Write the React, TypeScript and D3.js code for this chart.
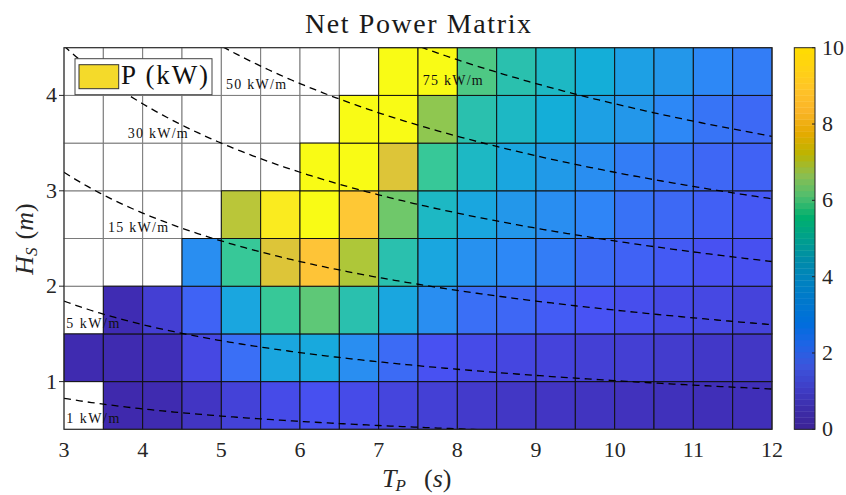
import React from "react";
import * as d3 from "d3";

// Peak period bins (s), left edges; each bin is 0.5 s wide
const tpBins = [3, 3.5, 4, 4.5, 5, 5.5, 6, 6.5, 7, 7.5, 8, 8.5, 9, 9.5, 10, 10.5, 11, 11.5];
// Significant wave height bins (m), lower edges; each bin is 0.5 m tall
const hsBins = [0.5, 1, 1.5, 2, 2.5, 3, 3.5, 4];

// Net power (kW) per sea state, one row per Hs bin; null = no data
const powerHs050 = [null, 0.1, 0.15, 0.5, 0.9, 1.2, 1.35, 1.2, 1.0, 0.85, 0.65, 0.55, 0.5, 0.45, 0.4, 0.35, 0.3, 0.3];
const powerHs100 = [0.15, 0.15, 0.3, 1.1, 2.2, 3.9, 4.0, 3.1, 2.1, 1.4, 1.2, 1.05, 0.95, 0.85, 0.8, 0.7, 0.6, 0.55];
const powerHs150 = [null, 0.2, 0.8, 1.9, 3.9, 5.7, 6.2, 5.2, 3.9, 3.1, 2.2, 2.0, 1.7, 1.45, 1.3, 1.15, 1.1, 0.95];
const powerHs200 = [null, null, null, 3.1, 5.7, 8.0, 8.6, 7.2, 5.2, 3.9, 3.2, 2.9, 2.6, 2.1, 1.85, 1.65, 1.4, 1.35];
const powerHs250 = [null, null, null, null, 7.4, 9.6, 10, 8.7, 6.4, 4.7, 3.9, 3.4, 3.1, 2.8, 2.3, 2.05, 1.8, 1.6];
const powerHs300 = [null, null, null, null, null, null, 10, 10, 8.0, 5.7, 4.7, 3.9, 3.5, 3.1, 2.6, 2.3, 2.0, 1.85];
const powerHs350 = [null, null, null, null, null, null, null, 10, 10, 6.8, 5.2, 4.7, 4.2, 3.7, 3.4, 2.9, 2.35, 2.05];
const powerHs400 = [null, null, null, null, null, null, null, null, 10, 10, 6.0, 5.2, 4.7, 4.2, 3.7, 3.4, 2.9, 2.6];
const powerRows = [powerHs050, powerHs100, powerHs150, powerHs200, powerHs250, powerHs300, powerHs350, powerHs400];

// Wave energy flux iso-lines (kW/m) and where their labels sit (Tp, Hs)
const fluxLevels = [1, 5, 15, 30, 50, 75];
const fluxLabelTp = [3.03, 3.03, 3.56, 3.81, 5.06, 7.56];
const fluxLabelHs = [0.563, 1.565, 2.565, 3.553, 4.067, 4.112];

// Axis ticks
const xTicks = [3, 4, 5, 6, 7, 8, 9, 10, 11, 12];
const yTicks = [1, 2, 3, 4];
const cbTicks = [0, 2, 4, 6, 8, 10];

// Deep-water energy flux coefficient rho*g^2/(64*pi) in kW/(m^3 s)
const FLUX_COEF = 0.49;

const parulaStops = [
  "#3e26a8", "#4852f4", "#2e87f7", "#12b1d6",
  "#37c897", "#abc739", "#fec338", "#f9fb15",
];
const colorbarStops = [
  "#3c2396", "#3c2daa", "#3e3ec8", "#3c55dc", "#1e64e6", "#006edc",
  "#0078cd", "#0082c0", "#008ca8", "#00a08c", "#00af6e", "#50be6e",
  "#8cbe50", "#bcb400", "#e6aa00", "#fab428", "#ffc328", "#ffd214", "#ffdc00",
];

const W = 846;
const H = 495;
const plot = { left: 64, right: 772, top: 47.7, bottom: 429.3 };
const cb = { left: 794.3, right: 815, top: 47.7, bottom: 429.3 };
const FONT = "'Liberation Serif', 'Times New Roman', serif";

export default function App() {
  const x = d3.scaleLinear().domain([3, 12]).range([plot.left, plot.right]);
  const y = d3.scaleLinear().domain([0.5, 4.5]).range([plot.bottom, plot.top]);
  const cbY = d3.scaleLinear().domain([0, 10]).range([cb.bottom, cb.top]);

  const parula = d3.piecewise(d3.interpolateRgb, parulaStops);
  const color = d3.scaleSequential((t: number) => parula(t)).domain([0, 10]).clamp(true);
  const cbInterp = d3.piecewise(d3.interpolateRgb, colorbarStops);

  const cells: { tp: number; hs: number; v: number | null }[] = [];
  hsBins.forEach((hs, i) => {
    tpBins.forEach((tp, j) => {
      cells.push({ tp, hs, v: powerRows[i][j] });
    });
  });
  const emptyCells = cells.filter((c) => c.v === null);
  const filledCells = cells.filter((c) => c.v !== null);

  const tpSamples = d3.range(3, 12.0001, 0.05);
  const line = d3
    .line<number[]>()
    .x((d) => x(d[0]))
    .y((d) => y(d[1]));
  const fluxPaths = fluxLevels.map((lvl) =>
    line(tpSamples.map((tp) => [tp, Math.sqrt(lvl / (FLUX_COEF * tp))]))
  );

  const nBands = 64;
  const bandH = (cb.bottom - cb.top) / nBands;

  return (
    <svg
      width={W}
      height={H}
      style={{ position: "absolute", left: 0, top: 0, background: "#fff" }}
      fontFamily={FONT}
    >
      <defs>
        <clipPath id="plotClip">
          <rect x={plot.left} y={plot.top} width={plot.right - plot.left} height={plot.bottom - plot.top} />
        </clipPath>
      </defs>

      {/* title */}
      <text x={418} y={33} textAnchor="middle" fontSize={28} textLength={226} fill="#1a1a1a">
        Net Power Matrix
      </text>

      {/* empty sea states */}
      {emptyCells.map((c, i) => (
        <rect
          key={"e" + i}
          x={x(c.tp)}
          y={y(c.hs + 0.5)}
          width={x(c.tp + 0.5) - x(c.tp)}
          height={y(c.hs) - y(c.hs + 0.5)}
          fill="#fff"
          stroke="#7a7a7a"
          strokeWidth={1}
        />
      ))}
      {/* power cells */}
      {filledCells.map((c, i) => (
        <rect
          key={"f" + i}
          x={x(c.tp)}
          y={y(c.hs + 0.5)}
          width={x(c.tp + 0.5) - x(c.tp)}
          height={y(c.hs) - y(c.hs + 0.5)}
          fill={color(c.v as number)}
          stroke="#111"
          strokeWidth={1}
        />
      ))}

      {/* energy flux iso-lines */}
      <g clipPath="url(#plotClip)">
        {fluxPaths.map((p, i) => (
          <path key={"l" + i} d={p || ""} fill="none" stroke="#000" strokeWidth={1.3} strokeDasharray="7,5" />
        ))}
      </g>
      {fluxLevels.map((lvl, i) => (
        <text
          key={"t" + i}
          x={x(fluxLabelTp[i])}
          y={y(fluxLabelHs[i])}
          fontSize={14}
          textLength={lvl < 10 ? 53 : 60}
          fill="#111"
        >
          {lvl} kW/m
        </text>
      ))}

      {/* axes box */}
      <rect
        x={plot.left}
        y={plot.top}
        width={plot.right - plot.left}
        height={plot.bottom - plot.top}
        fill="none"
        stroke="#262626"
        strokeWidth={1}
      />

      {/* y ticks and labels */}
      {yTicks.map((t) => (
        <g key={"y" + t}>
          <line x1={plot.left - 5} x2={plot.left} y1={y(t)} y2={y(t)} stroke="#262626" strokeWidth={1} />
          <text x={57} y={y(t) + 7} textAnchor="end" fontSize={22} fill="#262626">
            {t}
          </text>
        </g>
      ))}
      {/* x tick labels */}
      {xTicks.map((t) => (
        <text key={"x" + t} x={x(t)} y={457} textAnchor="middle" fontSize={22} fill="#262626">
          {t}
        </text>
      ))}

      {/* axis titles */}
      <text x={382} y={487} fontSize={26} fill="#262626">
        <tspan fontStyle="italic">T</tspan>
        <tspan fontStyle="italic" fontSize={17} dy={4} dx={-1}>P</tspan>
      </text>
      <text x={424} y={487} fontSize={26} fill="#262626">
        (<tspan fontStyle="italic">s</tspan>)
      </text>
      <text transform="translate(33,239) rotate(-90)" textAnchor="middle" fontSize={26} fill="#262626">
        <tspan fontStyle="italic">H</tspan>
        <tspan fontStyle="italic" fontSize={17} dy={4}>S</tspan>
        <tspan dy={-4} dx={8}>(</tspan>
        <tspan fontStyle="italic">m</tspan>
        <tspan>)</tspan>
      </text>

      {/* legend */}
      <rect x={75} y={58.7} width={137} height={36} fill="#fff" stroke="#444" strokeWidth={1} />
      <rect x={79} y={64.7} width={39.7} height={24} fill="#F4DA2A" stroke="#333" strokeWidth={1} />
      <text x={121} y={84} fontSize={27} textLength={87} fill="#111">
        P (kW)
      </text>

      {/* colorbar */}
      {d3.range(nBands).map((k) => (
        <rect
          key={"b" + k}
          x={cb.left}
          y={cb.bottom - (k + 1) * bandH}
          width={cb.right - cb.left}
          height={bandH + 0.4}
          fill={cbInterp((k + 0.5) / nBands)}
        />
      ))}
      <rect
        x={cb.left}
        y={cb.top}
        width={cb.right - cb.left}
        height={cb.bottom - cb.top}
        fill="none"
        stroke="#262626"
        strokeWidth={1}
      />
      {cbTicks.map((t) => (
        <g key={"c" + t}>
          <line x1={cb.right - 3} x2={cb.right} y1={cbY(t)} y2={cbY(t)} stroke="#262626" strokeWidth={1} />
          <text x={822} y={cbY(t) + 7} fontSize={22} fill="#262626">
            {t}
          </text>
        </g>
      ))}
    </svg>
  );
}
